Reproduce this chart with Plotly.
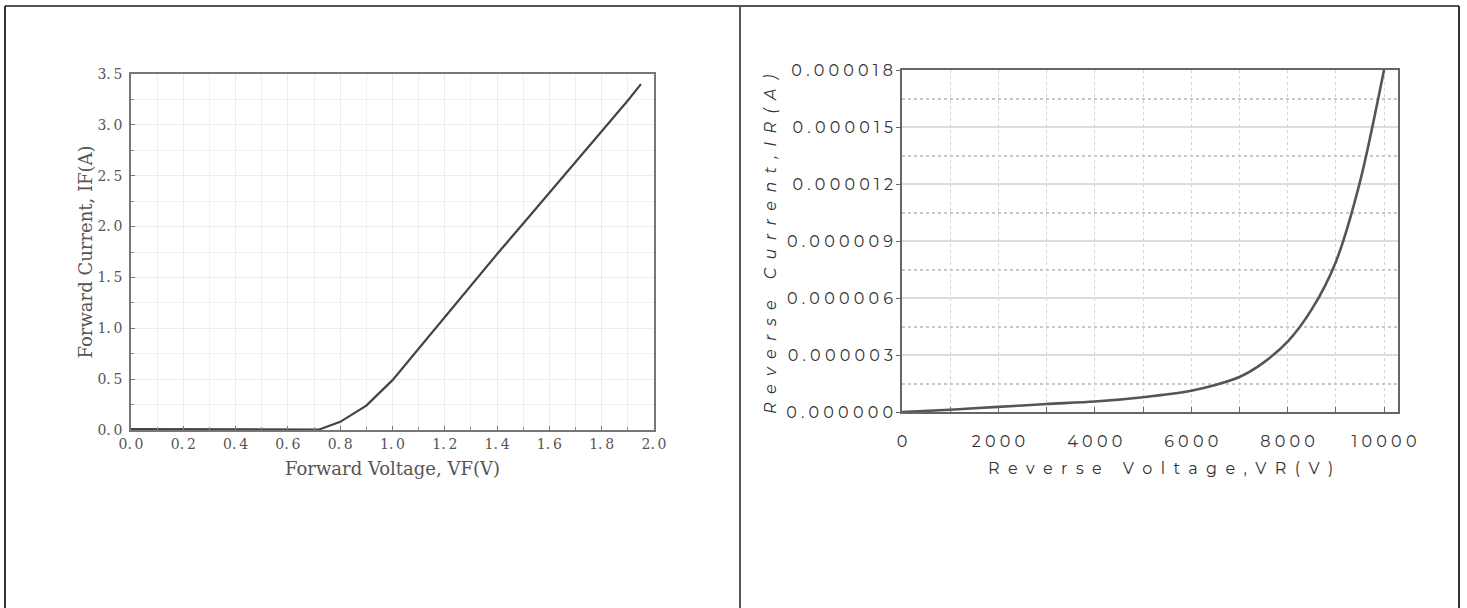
import plotly.graph_objects as go

# ---- Data: forward characteristic ----
vf = [0.0, 0.1, 0.2, 0.3, 0.4, 0.5, 0.6, 0.7, 0.72, 0.8, 0.9, 1.0, 1.1, 1.2, 1.3, 1.4, 1.5, 1.6, 1.7, 1.8, 1.9, 1.95]
if_a = [0.01, 0.01, 0.01, 0.005, 0.005, 0.005, 0.01, 0.005, 0.005, 0.08, 0.24, 0.49, 0.80, 1.12, 1.42, 1.73, 2.03, 2.33, 2.63, 2.94, 3.24, 3.40]

# ---- Data: reverse characteristic ----
vr = [0, 1000, 2000, 3000, 4000, 5000, 6000, 6500, 7000, 7500, 8000, 8500, 9000, 9500, 10000]
ir = [0.0, 0.12e-6, 0.27e-6, 0.42e-6, 0.55e-6, 0.78e-6, 1.12e-6, 1.42e-6, 1.84e-6, 2.6e-6, 3.7e-6, 5.4e-6, 7.9e-6, 12.1e-6, 18.0e-6]

left_xticks = [0.0, 0.2, 0.4, 0.6, 0.8, 1.0, 1.2, 1.4, 1.6, 1.8, 2.0]
left_yticks = [0.0, 0.5, 1.0, 1.5, 2.0, 2.5, 3.0, 3.5]
right_xticks = [0, 2000, 4000, 6000, 8000, 10000]
right_yticks = [0.0, 3e-6, 6e-6, 9e-6, 12e-6, 15e-6, 18e-6]

W, H = 1467, 608
NB = "\u00a0"


def spaced(s, sep=NB):
    return sep.join(list(s))


serif = "DejaVu Serif, Liberation Serif, serif"
sans = "Montserrat, Inter, Lato, sans-serif"

fig = go.Figure()
fig.add_trace(go.Scatter(x=vf, y=if_a, mode="lines", line=dict(color="#444", width=2.2),
                         xaxis="x", yaxis="y", showlegend=False, hoverinfo="skip"))
fig.add_trace(go.Scatter(x=vr, y=ir, mode="lines", line=dict(color="#555", width=2.6, shape="spline", smoothing=0.8),
                         xaxis="x2", yaxis="y2", showlegend=False, hoverinfo="skip"))

fig.update_layout(
    width=W, height=H,
    margin=dict(l=0, r=0, t=0, b=0, pad=0, autoexpand=False),
    paper_bgcolor="white", plot_bgcolor="white",
    xaxis=dict(
        domain=[131 / W, 654 / W], range=[0, 2.0], anchor="y", automargin=False,
        tickvals=left_xticks, ticktext=[f"{v:.1f}".replace(".", ".\u2009") for v in left_xticks],
        ticks="inside", ticklen=4, tickcolor="#777", ticklabelstandoff=0,
        showgrid=True, gridcolor="#ececec", gridwidth=1,
        minor=dict(dtick=0.1, showgrid=True, gridcolor="#f0f0f0", ticks="inside", ticklen=3, tickcolor="#888"),
        showline=True, linecolor="#777", linewidth=1.5, mirror=True, zeroline=False,
        tickfont=dict(family=serif, size=14, color="#555"),
        title=dict(text="Forward Voltage, VF(V)", font=dict(family=serif, size=18, color="#555"), standoff=12),
    ),
    yaxis=dict(
        domain=[(H - 430) / H, (H - 74) / H], range=[0, 3.5], anchor="x", automargin=False,
        tickvals=left_yticks, ticktext=[f"{v:.1f}".replace(".", ".\u2009") for v in left_yticks],
        ticks="inside", ticklen=4, tickcolor="#777", ticklabelstandoff=4,
        showgrid=True, gridcolor="#ececec", gridwidth=1,
        minor=dict(dtick=0.25, showgrid=True, gridcolor="#f0f0f0", ticks="inside", ticklen=3, tickcolor="#888"),
        showline=True, linecolor="#777", linewidth=1.5, mirror=True, zeroline=False,
        tickfont=dict(family=serif, size=14, color="#555"),
        title=dict(text="Forward Current, IF(A)", font=dict(family=serif, size=18, color="#555"), standoff=0),
    ),
    xaxis2=dict(
        domain=[902 / W, 1398 / W], range=[0, 10290], anchor="y2", automargin=False,
        tickvals=right_xticks, ticktext=[spaced(str(v)) for v in right_xticks],
        ticks="inside", ticklen=5, tickcolor="#666",
        ticklabelstandoff=14,
        showgrid=True, gridcolor="#d4d4d4", griddash="dot", gridwidth=1,
        minor=dict(dtick=1000, showgrid=True, gridcolor="#d4d4d4", griddash="dot", ticks="inside", ticklen=5, tickcolor="#666"),
        showline=True, linecolor="#666", linewidth=1.5, mirror=True, zeroline=False,
        tickfont=dict(family=sans, size=16, color="#333"),
    ),
    yaxis2=dict(
        domain=[(H - 412) / H, (H - 70) / H], range=[0, 18e-6], anchor="x2", automargin=False,
        tickvals=right_yticks, ticktext=[spaced(f"{v:.6f}") for v in right_yticks],
        ticks="outside", ticklen=4, tickcolor="#666",
        showgrid=True, gridcolor="#dcdcdc", gridwidth=2,
        minor=dict(dtick=1.5e-6, showgrid=True, gridcolor="#c8c8c8", griddash="dot", ticks=""),
        showline=True, linecolor="#666", linewidth=1.5, mirror=True, zeroline=False,
        tickfont=dict(family=sans, size=16, color="#333"),
    ),
)

fig.add_annotation(
    x=770 / W, y=(H - 245) / H, xref="paper", yref="paper", xanchor="center", yanchor="middle",
    text="<i>" + spaced("Reverse Current,IR(A)", NB + NB) + "</i>", textangle=-90,
    showarrow=False, font=dict(family=sans, size=16, color="#333"),
)
fig.add_annotation(
    x=1160 / W, y=(H - 468) / H, xref="paper", yref="paper", xanchor="center", yanchor="middle",
    text=spaced("Reverse Voltage,VR(V)", NB + NB),
    showarrow=False, font=dict(family=sans, size=16, color="#333"),
)

# panel borders
border = dict(color="#555", width=2)
fig.add_shape(type="line", xref="paper", yref="paper", x0=5 / W, x1=1459 / W, y0=(H - 6) / H, y1=(H - 6) / H, line=border)
fig.add_shape(type="line", xref="paper", yref="paper", x0=5 / W, x1=5 / W, y0=-0.02, y1=(H - 6) / H, line=dict(color="#333", width=2))
fig.add_shape(type="line", xref="paper", yref="paper", x0=740 / W, x1=740 / W, y0=-0.02, y1=(H - 6) / H, line=border)
fig.add_shape(type="line", xref="paper", yref="paper", x0=1459 / W, x1=1459 / W, y0=-0.02, y1=(H - 6) / H, line=dict(color="#333", width=2))

fig.write_html(
    "out.html",
    config=dict(displayModeBar=False),
    post_script="document.body.style.margin='0';document.body.style.padding='0';document.documentElement.style.overflow='hidden';",
)
